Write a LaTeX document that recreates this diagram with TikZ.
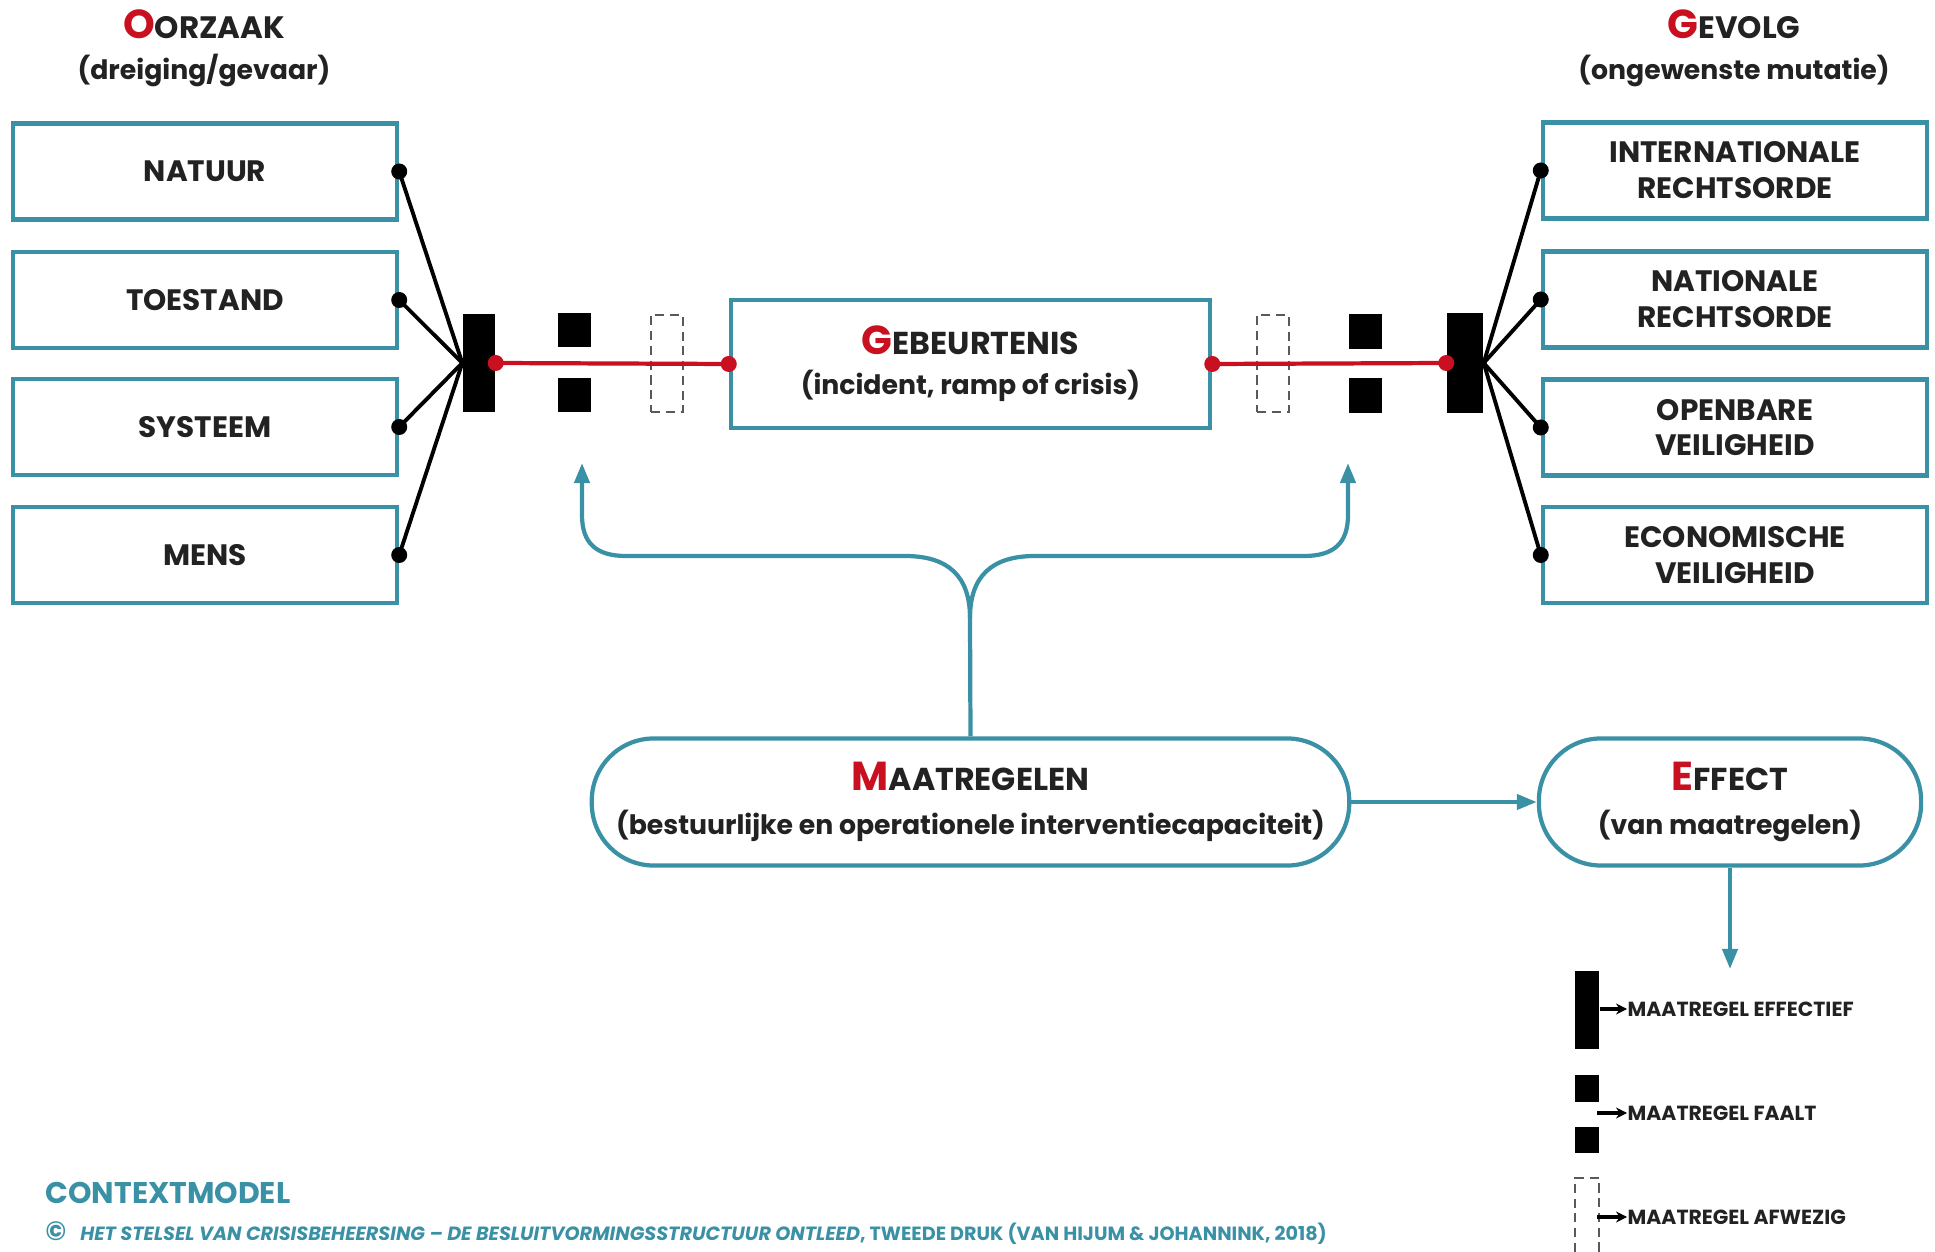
\documentclass[tikz,border=0pt]{standalone}
\usepackage{fontspec}
\setmainfont{Poppins}
\usetikzlibrary{arrows.meta}
\definecolor{tealc}{RGB}{58,145,166}
\definecolor{redc}{RGB}{200,16,32}
\definecolor{inkc}{RGB}{34,34,34}
\newcommand\redcap[1]{{\color{redc}\fontsize{11.5}{11.5}\selectfont #1}}
\newcommand\boxfont{\bfseries\fontsize{8.4}{10.2}\selectfont}
\newcommand\subfont{\fontsize{7.6}{11.4}\selectfont}
\tikzset{
  box/.style={draw=tealc, line width=1.2pt, minimum width=3.84cm, minimum height=0.96cm,
    align=center, text=inkc, font=\boxfont, inner sep=0pt},
  pill/.style={box, rounded corners=0.62cm, minimum height=1.27cm, font=\bfseries\fontsize{9}{12.5}\selectfont},
  head/.style={align=center, text=inkc, inner sep=0pt, font=\bfseries\fontsize{8.8}{11.8}\selectfont},
  blk/.style={fill=black, inner sep=0pt, minimum width=0.32cm},
  gap/.style={draw=black!65, dash pattern=on 2.6pt off 1.6pt, line width=0.5pt, inner sep=0pt,
    minimum width=0.32cm, minimum height=0.97cm},
  spoke/.style={line width=1.1pt},
  redline/.style={draw=redc, line width=1.2pt},
  tealline/.style={draw=tealc, line width=1.2pt},
  branch/.style={tealline, -{Triangle[length=0.2cm,width=0.15cm]}},
  legend/.style={anchor=west, inner sep=0pt, font=\bfseries\fontsize{5.8}{6}\selectfont, text=inkc},
  legarrow/.style={line width=1pt, -{Stealth[length=0.11cm,width=0.11cm]}},
}
\begin{document}
\begin{tikzpicture}[x=0.01cm,y=-0.01cm]
\useasboundingbox (0,0) rectangle (1935,1252);

% koppen
\node[head, anchor=north] (oorzaak) at (204,9) {\redcap{O}ORZAAK\\{\subfont(dreiging/gevaar)}};
\node[head, anchor=north] (gevolg) at (1734,9) {\redcap{G}EVOLG\\{\subfont(ongewenste mutatie)}};

% oorzaken
\node[box] (natuur) at (205,171.5) {NATUUR};
\node[box] (toestand) at (205,300) {TOESTAND};
\node[box] (systeem) at (205,427) {SYSTEEM};
\node[box] (mens) at (205,555) {MENS};

% gevolgen
\node[box] (intl) at (1735,170.5) {INTERNATIONALE\\RECHTSORDE};
\node[box] (natl) at (1735,299.5) {NATIONALE\\RECHTSORDE};
\node[box] (openb) at (1735,427.5) {OPENBARE\\VEILIGHEID};
\node[box] (econ) at (1735,555) {ECONOMISCHE\\VEILIGHEID};

% gebeurtenis
\node[box, minimum width=4.79cm, minimum height=1.28cm, font=\bfseries\fontsize{9}{11.4}\selectfont]
  (gebeurtenis) at (970.5,364) {\redcap{G}EBEURTENIS\\{\subfont(incident, ramp of crisis)}};

% barrieres links
\node[blk, minimum height=0.98cm] (barL) at (479,363) {};
\node[blk, minimum height=0.34cm, minimum width=0.33cm] (sqLa) at (574.5,330) {};
\node[blk, minimum height=0.34cm, minimum width=0.33cm] (sqLb) at (574.5,395) {};
\node[gap] (gapL) at (667,363.5) {};

% barrieres rechts
\node[gap] (gapR) at (1273,363.5) {};
\node[blk, minimum height=0.34cm, minimum width=0.33cm] (sqRa) at (1365.5,331.5) {};
\node[blk, minimum height=0.34cm, minimum width=0.33cm] (sqRb) at (1365.5,395.5) {};
\node[blk, minimum height=1.0cm, minimum width=0.36cm] (barR) at (1465,363) {};

\foreach \b in {natuur,toestand,systeem,mens}{
  \draw[spoke] (\b.east) -- (barL.west);
  \fill (\b.east) circle (0.08cm);
}
\foreach \b in {intl,natl,openb,econ}{
  \draw[spoke] (\b.west) -- (barR.east);
  \fill (\b.west) circle (0.08cm);
}

\draw[redline] (barL.east) -- (gebeurtenis.west);
\draw[redline] (gebeurtenis.east) -- (barR.west);
\foreach \p in {barL.east,gebeurtenis.west,gebeurtenis.east,barR.west}
  \fill[redc] (\p) circle (0.08cm);

% maatregelen en effect
\node[pill, minimum width=7.57cm] (maatregelen) at (970.5,802)
  {\redcap{M}AATREGELEN\\{\subfont(bestuurlijke en operationele interventiecapaciteit)}};
\node[pill, minimum width=3.82cm] (effect) at (1730,802)
  {\redcap{E}FFECT\\{\subfont(van maatregelen)}};

\coordinate (split) at (970,618);
\coordinate (tipL) at (582,463);
\coordinate (tipR) at (1348,463);
\coordinate (tipE) at (1730,969);
\draw[tealline] (maatregelen.north) -- (split);
\draw[branch] (split) .. controls (970,576) and (948,556) .. (905,556) -- (626,556)
  .. controls (596,556) and (582,543) .. (582,515) -- (tipL);
\draw[branch] (split) .. controls (970,576) and (992,556) .. (1035,556) -- (1304,556)
  .. controls (1334,556) and (1348,543) .. (1348,515) -- (tipR);
\draw[branch] (maatregelen.east) -- (effect.west);
\draw[branch] (effect.south) -- (tipE);

% legenda
\node[blk, minimum width=0.24cm, minimum height=0.78cm] (legA) at (1587,1010) {};
\node[blk, minimum width=0.24cm, minimum height=0.27cm] (legBa) at (1587,1088.5) {};
\node[blk, minimum width=0.24cm, minimum height=0.26cm] (legBb) at (1587,1140) {};
\draw[draw=black!65, dash pattern=on 2.6pt off 1.6pt, line width=0.5pt]
  (1575,1252) -- (1575,1178) -- (1599,1178) -- (1599,1252);
\node[legend] (txtA) at (1627,1009) {MAATREGEL EFFECTIEF};
\node[legend] (txtB) at (1627,1113) {MAATREGEL FAALT};
\node[legend] (txtC) at (1627,1217) {MAATREGEL AFWEZIG};
\coordinate (legB) at (1597,1113);
\coordinate (legC) at (1597,1217);
\draw[legarrow] (legA.east |- txtA.west) -- (txtA.west);
\draw[legarrow] (legB) -- (txtB.west);
\draw[legarrow] (legC) -- (txtC.west);

% voetregel
\node[anchor=west, inner sep=0pt, text=tealc, font=\bfseries\fontsize{8.5}{9}\selectfont]
  (titel) at (45,1193) {CONTEXTMODEL};
\node[anchor=west, inner sep=0pt, text=tealc, font=\bfseries\fontsize{5.45}{6}\selectfont]
  (bron) at (45,1233) {{\fontsize{7.5}{8}\selectfont ©}\hspace{4pt}{\itshape HET STELSEL VAN CRISISBEHEERSING – DE BESLUITVORMINGSSTRUCTUUR ONTLEED}, TWEEDE DRUK (VAN HIJUM \& JOHANNINK, 2018)};
\end{tikzpicture}
\end{document}
